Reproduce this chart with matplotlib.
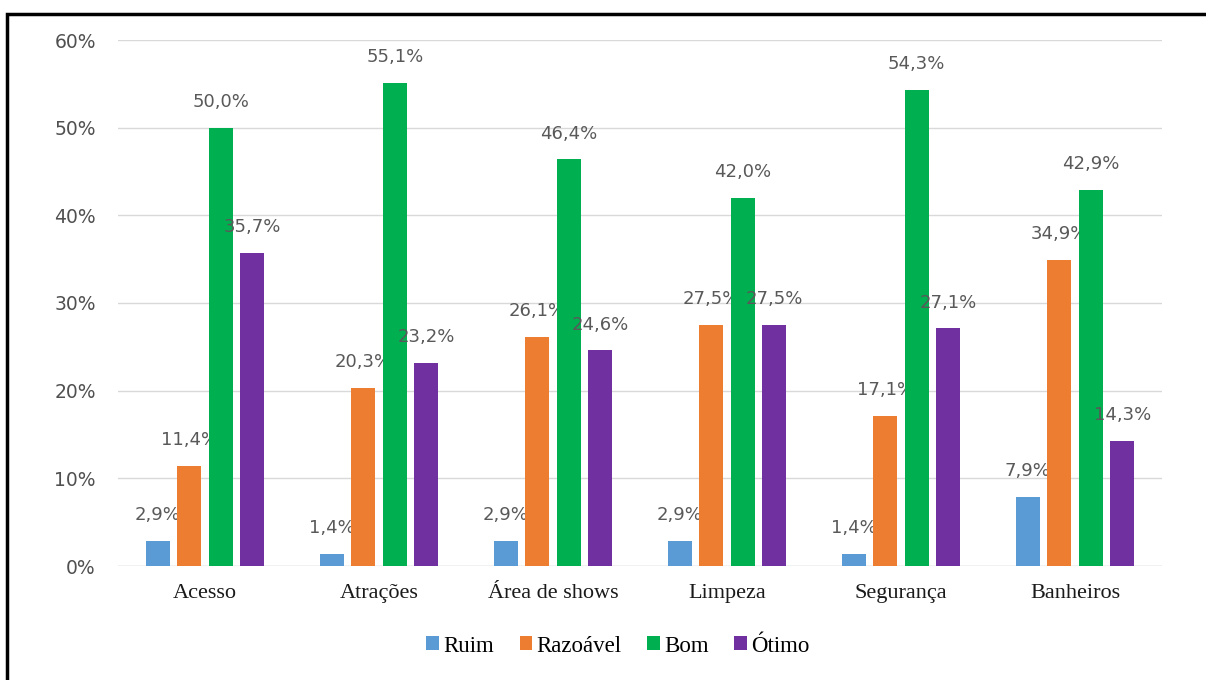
import numpy as np
import matplotlib.pyplot as plt
from matplotlib.patches import Rectangle

# data
categorias = ["Acesso", "Atrações", "Área de shows", "Limpeza", "Segurança", "Banheiros"]
series = ["Ruim", "Razoável", "Bom", "Ótimo"]
ruim = [2.9, 1.4, 2.9, 2.9, 1.4, 7.9]
razoavel = [11.4, 20.3, 26.1, 27.5, 17.1, 34.9]
bom = [50.0, 55.1, 46.4, 42.0, 54.3, 42.9]
otimo = [35.7, 23.2, 24.6, 27.5, 27.1, 14.3]
cores = ["#5B9BD5", "#ED7D31", "#00B050", "#7030A0"]

valores = [ruim, razoavel, bom, otimo]

fig = plt.figure(figsize=(12.06, 6.8), dpi=100)
ax = fig.add_axes([118/1206, 1 - 566/680, (1162-118)/1206, (566-40)/680])

x = np.arange(len(categorias))
slot = 0.181
largura = 0.138
for i, (nome, vals, cor) in enumerate(zip(series, valores, cores)):
    pos = x + (i - 1.5) * slot
    ax.bar(pos, vals, largura, color=cor, label=nome, zorder=3)
    for p, v in zip(pos, vals):
        ax.annotate(f"{v:.1f}%".replace(".", ","), (p, v), xytext=(0, 18.5),
                    textcoords="offset points", ha="center", va="center",
                    fontsize=13, color="#595959", family="DejaVu Sans")

ax.set_xlim(-0.5, len(categorias) - 0.5)
ax.set_ylim(0, 60)
ax.set_yticks(range(0, 61, 10))
ax.set_yticklabels([f"{t}%" for t in range(0, 61, 10)], fontsize=13.5, color="#505050")
ax.set_xticks(x)
ax.set_xticklabels(categorias, fontsize=16, family="Liberation Serif", color="#1a1a1a")
ax.tick_params(axis="both", length=0)
ax.tick_params(axis="y", pad=16)
ax.tick_params(axis="x", pad=13)
ax.grid(axis="y", color="#d9d9d9", linewidth=1, zorder=0)
for s in ax.spines.values():
    s.set_visible(False)
ax.axhline(0, color="#d9d9d9", linewidth=1, zorder=1)

ax.legend(loc="center", bbox_to_anchor=(618/1206, 1 - 646/680), bbox_transform=fig.transFigure,
          ncol=4, frameon=False, handlelength=0.55, handleheight=0.55, handletextpad=0.2,
          columnspacing=1.1, prop={"family": "Liberation Serif", "size": 16.5})

# black border around the figure
fig.patches.append(Rectangle((7/1206, -0.05), 1.1, 1 - 14/680 + 0.05, transform=fig.transFigure,
                             fill=False, edgecolor="black", linewidth=2.5))

fig.savefig("out.png", dpi=100)
